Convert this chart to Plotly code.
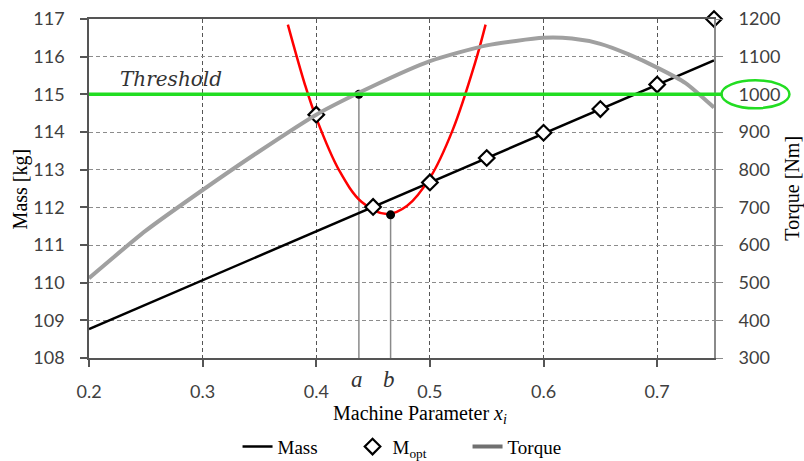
import plotly.graph_objects as go

# ---- data ----
x_mass = [0.20, 0.25, 0.30, 0.35, 0.40, 0.45, 0.50, 0.55, 0.60, 0.65, 0.70, 0.75]
mass = [108.77, 109.42, 110.07, 110.71, 111.36, 112.01, 112.66, 113.31, 113.95, 114.60, 115.25, 115.90]

x_mopt = [0.40, 0.45, 0.50, 0.55, 0.60, 0.65, 0.70, 0.75]
m_opt = [114.46, 112.01, 112.66, 113.31, 113.98, 114.61, 115.26, 117.0]

x_torque = [0.20, 0.25, 0.30, 0.35, 0.40, 0.45, 0.50, 0.55, 0.60, 0.625, 0.65, 0.675, 0.70, 0.725, 0.75]
torque = [512, 638, 746, 849, 946, 1022, 1088, 1130, 1150, 1148, 1134, 1106, 1071, 1030, 965]

x_fit = [0.375, 0.39, 0.40, 0.42, 0.44, 0.462, 0.48, 0.50, 0.52, 0.54, 0.549]
fit = [116.85, 115.26, 114.37, 112.99, 112.14, 111.82, 112.04, 112.78, 114.05, 115.86, 116.85]

threshold = 115.0
point_a = (0.4375, 115.0)
point_b = (0.4654, 111.80)

x_ticks = [0.2, 0.3, 0.4, 0.5, 0.6, 0.7]
x_range = [0.2, 0.75]
y_range = [108, 117]
y2_range = [300, 1200]

SERIF = "Liberation Serif"
SANS = "Lato"
TICKCOL = "#404040"

fig = go.Figure()

# drop lines for a and b
for px_, py_ in (point_a, point_b):
    fig.add_trace(go.Scatter(x=[px_, px_], y=[py_, y_range[0]], mode="lines",
                             line=dict(color="#8a8a8a", width=1.5),
                             showlegend=False, hoverinfo="skip"))

fig.add_trace(go.Scatter(x=x_torque, y=torque, yaxis="y2", mode="lines", name="Torque",
                         line=dict(color="#a0a0a0", width=4, shape="spline", smoothing=0.6),
                         showlegend=False))
fig.add_trace(go.Scatter(x=x_mass, y=mass, mode="lines", name="Mass",
                         line=dict(color="black", width=2.5)))
fig.add_trace(go.Scatter(x=x_fit, y=fit, mode="lines", name="fit",
                         line=dict(color="#ff0000", width=2.5, shape="spline", smoothing=1.0),
                         showlegend=False))
fig.add_trace(go.Scatter(x=x_mopt, y=m_opt, mode="markers", name="M<sub>opt</sub>",
                         marker=dict(symbol="diamond", size=12, color="white",
                                     line=dict(color="black", width=2.2)),
                         cliponaxis=False))
# legend proxy for torque (darker sample as in reference)
fig.add_trace(go.Scatter(x=[None], y=[None], mode="lines", name="Torque",
                         line=dict(color="#707070", width=4)))
fig.add_trace(go.Scatter(x=[point_a[0], point_b[0]], y=[point_a[1], point_b[1]],
                         mode="markers", marker=dict(color="black", size=9),
                         showlegend=False, cliponaxis=False))

GREEN = "#22dd22"
fig.add_shape(type="line", xref="paper", yref="y", x0=0, x1=1.012, y0=threshold, y1=threshold,
              line=dict(color=GREEN, width=3.5), layer="above")
fig.add_shape(type="circle", xref="paper", yref="paper", x0=1.012, x1=1.1207,
              y0=0.7365, y1=0.819, line=dict(color=GREEN, width=2.5), layer="above")

fig.add_annotation(x=0.2257, y=threshold, xref="x", yref="y", text="<i>Threshold</i>",
                   showarrow=False, xanchor="left", yanchor="bottom", yshift=1,
                   font=dict(family="DejaVu Serif", size=20, color="#333333"))

for lbl, pt in (("a", point_a), ("b", point_b)):
    fig.add_annotation(x=pt[0], y=-0.062, xref="x", yref="paper", text=f"<i>{lbl}</i>",
                       showarrow=False, xanchor="center", yanchor="middle", xshift=-2,
                       font=dict(family=SERIF, size=23, color="#333333"))

fig.add_annotation(x=0.529, y=-0.166, xref="paper", yref="paper",
                   text="Machine Parameter <i>x<sub>i</sub></i>", showarrow=False,
                   xanchor="center", yanchor="middle",
                   font=dict(family=SERIF, size=20, color="black"))
fig.add_annotation(x=-0.109, y=0.5, xref="paper", yref="paper", text="Mass [kg]",
                   textangle=-90, showarrow=False, xanchor="center", yanchor="middle",
                   font=dict(family=SERIF, size=20, color="black"))
fig.add_annotation(x=1.125, y=0.5, xref="paper", yref="paper", text="Torque [Nm]",
                   textangle=-90, showarrow=False, xanchor="center", yanchor="middle",
                   font=dict(family=SERIF, size=20, color="black"))

fig.update_layout(
    width=804, height=461,
    margin=dict(l=89, r=90, t=19, b=103, autoexpand=False),
    plot_bgcolor="white", paper_bgcolor="white",
    showlegend=True,
    legend=dict(orientation="h", x=0.51, xanchor="center", xref="container",
                y=0.031, yanchor="middle", yref="container",
                entrywidth=70, entrywidthmode="pixels",
                font=dict(family=SERIF, size=19, color="black"), traceorder="normal"),
    xaxis=dict(range=x_range, tickvals=x_ticks, ticktext=[str(v) for v in x_ticks],
               showgrid=True, gridcolor="#555555", griddash="4px,3px", gridwidth=1,
               showline=True, linecolor="#555555", linewidth=1.5, mirror=True,
               ticks="outside", ticklen=7, tickcolor="#555555", tickwidth=1.5,
               ticklabelstandoff=10, zeroline=False,
               tickfont=dict(family=SANS, size=18, color=TICKCOL)),
    yaxis=dict(range=y_range, dtick=1, showgrid=True, gridcolor="#8c8c8c",
               griddash="4px,3px", gridwidth=1.3,
               showline=True, linecolor="#555555", linewidth=1.5,
               ticks="outside", ticklen=7, tickcolor="#555555", tickwidth=1.5,
               ticklabelstandoff=12, zeroline=False,
               tickfont=dict(family=SANS, size=18, color=TICKCOL)),
    yaxis2=dict(range=y2_range, dtick=100, overlaying="y", side="right", showgrid=False,
                showline=True, linecolor="#8a8a8a", linewidth=2,
                ticks="outside", ticklen=7, tickcolor="#8c8c8c", tickwidth=1.3,
                ticklabelstandoff=12, zeroline=False,
                tickfont=dict(family=SANS, size=18, color=TICKCOL)),
)

fig.write_html("out.html")
